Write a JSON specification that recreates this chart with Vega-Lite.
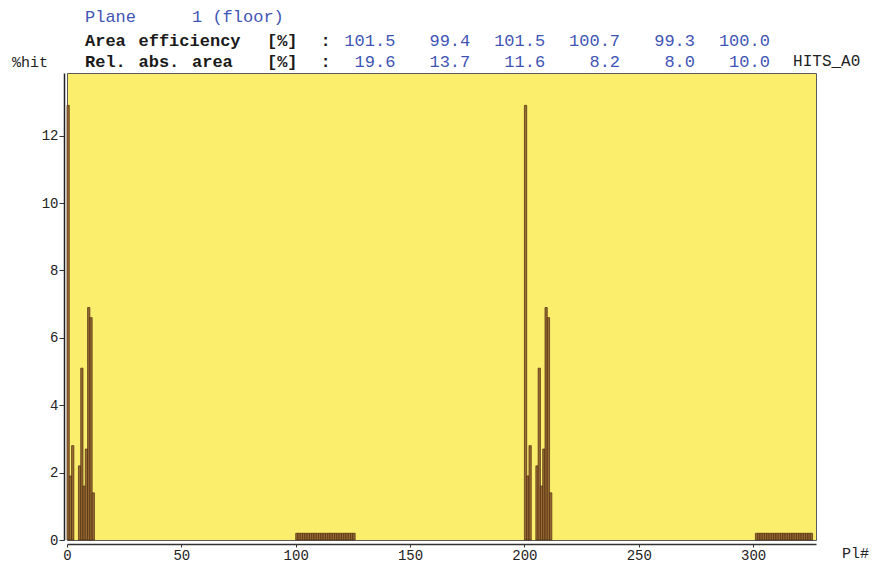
{
  "$schema": "https://vega.github.io/schema/vega-lite/v6.json",
  "width": 749,
  "height": 467,
  "autosize": "none",
  "padding": {"left": 67, "top": 73, "right": 64, "bottom": 27},
  "background": "white",
  "config": {
    "view": {"fill": "#FAEE6C", "stroke": "#5a5a5a", "strokeWidth": 1},
    "text": {"font": "Liberation Mono", "baseline": "middle"}
  },
  "datasets": {
    "hits": [
      {"pl_start": 0, "pl_end": 1, "hit": 12.9},
      {"pl_start": 1, "pl_end": 2, "hit": 1.9},
      {"pl_start": 2, "pl_end": 3, "hit": 2.8},
      {"pl_start": 5, "pl_end": 6, "hit": 2.2},
      {"pl_start": 6, "pl_end": 7, "hit": 5.1},
      {"pl_start": 7, "pl_end": 8, "hit": 1.6},
      {"pl_start": 8, "pl_end": 9, "hit": 2.7},
      {"pl_start": 9, "pl_end": 10, "hit": 6.9},
      {"pl_start": 10, "pl_end": 11, "hit": 6.6},
      {"pl_start": 11, "pl_end": 12, "hit": 1.4},
      {"pl_start": 100, "pl_end": 101, "hit": 0.2},
      {"pl_start": 101, "pl_end": 102, "hit": 0.2},
      {"pl_start": 102, "pl_end": 103, "hit": 0.2},
      {"pl_start": 103, "pl_end": 104, "hit": 0.2},
      {"pl_start": 104, "pl_end": 105, "hit": 0.2},
      {"pl_start": 105, "pl_end": 106, "hit": 0.2},
      {"pl_start": 106, "pl_end": 107, "hit": 0.2},
      {"pl_start": 107, "pl_end": 108, "hit": 0.2},
      {"pl_start": 108, "pl_end": 109, "hit": 0.2},
      {"pl_start": 109, "pl_end": 110, "hit": 0.2},
      {"pl_start": 110, "pl_end": 111, "hit": 0.2},
      {"pl_start": 111, "pl_end": 112, "hit": 0.2},
      {"pl_start": 112, "pl_end": 113, "hit": 0.2},
      {"pl_start": 113, "pl_end": 114, "hit": 0.2},
      {"pl_start": 114, "pl_end": 115, "hit": 0.2},
      {"pl_start": 115, "pl_end": 116, "hit": 0.2},
      {"pl_start": 116, "pl_end": 117, "hit": 0.2},
      {"pl_start": 117, "pl_end": 118, "hit": 0.2},
      {"pl_start": 118, "pl_end": 119, "hit": 0.2},
      {"pl_start": 119, "pl_end": 120, "hit": 0.2},
      {"pl_start": 120, "pl_end": 121, "hit": 0.2},
      {"pl_start": 121, "pl_end": 122, "hit": 0.2},
      {"pl_start": 122, "pl_end": 123, "hit": 0.2},
      {"pl_start": 123, "pl_end": 124, "hit": 0.2},
      {"pl_start": 124, "pl_end": 125, "hit": 0.2},
      {"pl_start": 125, "pl_end": 126, "hit": 0.2},
      {"pl_start": 200, "pl_end": 201, "hit": 12.9},
      {"pl_start": 201, "pl_end": 202, "hit": 1.9},
      {"pl_start": 202, "pl_end": 203, "hit": 2.8},
      {"pl_start": 205, "pl_end": 206, "hit": 2.2},
      {"pl_start": 206, "pl_end": 207, "hit": 5.1},
      {"pl_start": 207, "pl_end": 208, "hit": 1.6},
      {"pl_start": 208, "pl_end": 209, "hit": 2.7},
      {"pl_start": 209, "pl_end": 210, "hit": 6.9},
      {"pl_start": 210, "pl_end": 211, "hit": 6.6},
      {"pl_start": 211, "pl_end": 212, "hit": 1.4},
      {"pl_start": 301, "pl_end": 302, "hit": 0.2},
      {"pl_start": 302, "pl_end": 303, "hit": 0.2},
      {"pl_start": 303, "pl_end": 304, "hit": 0.2},
      {"pl_start": 304, "pl_end": 305, "hit": 0.2},
      {"pl_start": 305, "pl_end": 306, "hit": 0.2},
      {"pl_start": 306, "pl_end": 307, "hit": 0.2},
      {"pl_start": 307, "pl_end": 308, "hit": 0.2},
      {"pl_start": 308, "pl_end": 309, "hit": 0.2},
      {"pl_start": 309, "pl_end": 310, "hit": 0.2},
      {"pl_start": 310, "pl_end": 311, "hit": 0.2},
      {"pl_start": 311, "pl_end": 312, "hit": 0.2},
      {"pl_start": 312, "pl_end": 313, "hit": 0.2},
      {"pl_start": 313, "pl_end": 314, "hit": 0.2},
      {"pl_start": 314, "pl_end": 315, "hit": 0.2},
      {"pl_start": 315, "pl_end": 316, "hit": 0.2},
      {"pl_start": 316, "pl_end": 317, "hit": 0.2},
      {"pl_start": 317, "pl_end": 318, "hit": 0.2},
      {"pl_start": 318, "pl_end": 319, "hit": 0.2},
      {"pl_start": 319, "pl_end": 320, "hit": 0.2},
      {"pl_start": 320, "pl_end": 321, "hit": 0.2},
      {"pl_start": 321, "pl_end": 322, "hit": 0.2},
      {"pl_start": 322, "pl_end": 323, "hit": 0.2},
      {"pl_start": 323, "pl_end": 324, "hit": 0.2},
      {"pl_start": 324, "pl_end": 325, "hit": 0.2},
      {"pl_start": 325, "pl_end": 326, "hit": 0.2}
    ]
  },
  "layer": [
    {
      "data": {"name": "hits"},
      "mark": {"type": "bar", "fill": "#9a6a34", "stroke": "#4a2c10", "strokeWidth": 0.7},
      "encoding": {
        "x": {
          "field": "pl_start", "type": "quantitative",
          "scale": {"domain": [0, 327.5], "nice": false, "zero": false},
          "axis": {"title": null, "values": [0, 50, 100, 150, 200, 250, 300], "offset": 4, "tickSize": 3, "labelPadding": 1, "grid": false,
                   "domainColor": "#333333", "domainWidth": 1.5, "tickColor": "#333333", "labelFont": "Liberation Mono", "labelFontSize": 14, "labelColor": "#222222", "labelFlush": false}
        },
        "x2": {"field": "pl_end"},
        "y": {
          "field": "hit", "type": "quantitative",
          "scale": {"domain": [0, 13.86], "nice": false},
          "axis": {"title": null, "values": [0, 2, 4, 6, 8, 10, 12], "offset": 3, "tickSize": 5, "labelPadding": 1, "grid": false,
                   "domainColor": "#222222", "domainWidth": 1.5, "tickColor": "#333333", "labelFont": "Liberation Mono", "labelFontSize": 14, "labelColor": "#222222"}
        },
        "y2": {"datum": 0}
      }
    },
    {"data": {"values": [{}]}, "mark": {"type": "text", "text": "Plane", "align": "left", "fontSize": 17, "color": "#3f55b5"},
     "encoding": {"x": {"datum": 7.87, "type": "quantitative"}, "y": {"datum": 15.52, "type": "quantitative"}}},
    {"data": {"values": [{}]}, "mark": {"type": "text", "text": "1 (floor)", "align": "left", "fontSize": 17, "color": "#3f55b5"},
     "encoding": {"x": {"datum": 54.66, "type": "quantitative"}, "y": {"datum": 15.52, "type": "quantitative"}}},

    {"data": {"values": [{}]}, "mark": {"type": "text", "text": "Area", "align": "left", "fontSize": 17, "fontWeight": "bold", "color": "#1a1a1a"},
     "encoding": {"x": {"datum": 7.87, "type": "quantitative"}, "y": {"datum": 14.81, "type": "quantitative"}}},
    {"data": {"values": [{}]}, "mark": {"type": "text", "text": "efficiency", "align": "left", "fontSize": 17, "fontWeight": "bold", "color": "#1a1a1a"},
     "encoding": {"x": {"datum": 31.27, "type": "quantitative"}, "y": {"datum": 14.81, "type": "quantitative"}}},
    {"data": {"values": [{}]}, "mark": {"type": "text", "text": "[%]", "align": "left", "fontSize": 17, "fontWeight": "bold", "color": "#1a1a1a"},
     "encoding": {"x": {"datum": 87.42, "type": "quantitative"}, "y": {"datum": 14.81, "type": "quantitative"}}},
    {"data": {"values": [{}]}, "mark": {"type": "text", "text": ":", "align": "left", "fontSize": 17, "fontWeight": "bold", "color": "#1a1a1a"},
     "encoding": {"x": {"datum": 110.82, "type": "quantitative"}, "y": {"datum": 14.81, "type": "quantitative"}}},
    {"data": {"values": [{}]}, "mark": {"type": "text", "text": "101.5", "align": "right", "fontSize": 17, "color": "#3f55b5"},
     "encoding": {"x": {"datum": 143.57, "type": "quantitative"}, "y": {"datum": 14.81, "type": "quantitative"}}},
    {"data": {"values": [{}]}, "mark": {"type": "text", "text": "99.4", "align": "right", "fontSize": 17, "color": "#3f55b5"},
     "encoding": {"x": {"datum": 176.32, "type": "quantitative"}, "y": {"datum": 14.81, "type": "quantitative"}}},
    {"data": {"values": [{}]}, "mark": {"type": "text", "text": "101.5", "align": "right", "fontSize": 17, "color": "#3f55b5"},
     "encoding": {"x": {"datum": 209.08, "type": "quantitative"}, "y": {"datum": 14.81, "type": "quantitative"}}},
    {"data": {"values": [{}]}, "mark": {"type": "text", "text": "100.7", "align": "right", "fontSize": 17, "color": "#3f55b5"},
     "encoding": {"x": {"datum": 241.83, "type": "quantitative"}, "y": {"datum": 14.81, "type": "quantitative"}}},
    {"data": {"values": [{}]}, "mark": {"type": "text", "text": "99.3", "align": "right", "fontSize": 17, "color": "#3f55b5"},
     "encoding": {"x": {"datum": 274.59, "type": "quantitative"}, "y": {"datum": 14.81, "type": "quantitative"}}},
    {"data": {"values": [{}]}, "mark": {"type": "text", "text": "100.0", "align": "right", "fontSize": 17, "color": "#3f55b5"},
     "encoding": {"x": {"datum": 307.34, "type": "quantitative"}, "y": {"datum": 14.81, "type": "quantitative"}}},

    {"data": {"values": [{}]}, "mark": {"type": "text", "text": "Rel.", "align": "left", "fontSize": 17, "fontWeight": "bold", "color": "#1a1a1a"},
     "encoding": {"x": {"datum": 7.87, "type": "quantitative"}, "y": {"datum": 14.19, "type": "quantitative"}}},
    {"data": {"values": [{}]}, "mark": {"type": "text", "text": "abs.", "align": "left", "fontSize": 17, "fontWeight": "bold", "color": "#1a1a1a"},
     "encoding": {"x": {"datum": 31.27, "type": "quantitative"}, "y": {"datum": 14.19, "type": "quantitative"}}},
    {"data": {"values": [{}]}, "mark": {"type": "text", "text": "area", "align": "left", "fontSize": 17, "fontWeight": "bold", "color": "#1a1a1a"},
     "encoding": {"x": {"datum": 54.66, "type": "quantitative"}, "y": {"datum": 14.19, "type": "quantitative"}}},
    {"data": {"values": [{}]}, "mark": {"type": "text", "text": "[%]", "align": "left", "fontSize": 17, "fontWeight": "bold", "color": "#1a1a1a"},
     "encoding": {"x": {"datum": 87.42, "type": "quantitative"}, "y": {"datum": 14.19, "type": "quantitative"}}},
    {"data": {"values": [{}]}, "mark": {"type": "text", "text": ":", "align": "left", "fontSize": 17, "fontWeight": "bold", "color": "#1a1a1a"},
     "encoding": {"x": {"datum": 110.82, "type": "quantitative"}, "y": {"datum": 14.19, "type": "quantitative"}}},
    {"data": {"values": [{}]}, "mark": {"type": "text", "text": "19.6", "align": "right", "fontSize": 17, "color": "#3f55b5"},
     "encoding": {"x": {"datum": 143.57, "type": "quantitative"}, "y": {"datum": 14.19, "type": "quantitative"}}},
    {"data": {"values": [{}]}, "mark": {"type": "text", "text": "13.7", "align": "right", "fontSize": 17, "color": "#3f55b5"},
     "encoding": {"x": {"datum": 176.32, "type": "quantitative"}, "y": {"datum": 14.19, "type": "quantitative"}}},
    {"data": {"values": [{}]}, "mark": {"type": "text", "text": "11.6", "align": "right", "fontSize": 17, "color": "#3f55b5"},
     "encoding": {"x": {"datum": 209.08, "type": "quantitative"}, "y": {"datum": 14.19, "type": "quantitative"}}},
    {"data": {"values": [{}]}, "mark": {"type": "text", "text": "8.2", "align": "right", "fontSize": 17, "color": "#3f55b5"},
     "encoding": {"x": {"datum": 241.83, "type": "quantitative"}, "y": {"datum": 14.19, "type": "quantitative"}}},
    {"data": {"values": [{}]}, "mark": {"type": "text", "text": "8.0", "align": "right", "fontSize": 17, "color": "#3f55b5"},
     "encoding": {"x": {"datum": 274.59, "type": "quantitative"}, "y": {"datum": 14.19, "type": "quantitative"}}},
    {"data": {"values": [{}]}, "mark": {"type": "text", "text": "10.0", "align": "right", "fontSize": 17, "color": "#3f55b5"},
     "encoding": {"x": {"datum": 307.34, "type": "quantitative"}, "y": {"datum": 14.19, "type": "quantitative"}}},

    {"data": {"values": [{}]}, "mark": {"type": "text", "text": "%hit", "align": "left", "fontSize": 15, "color": "#222222"},
     "encoding": {"x": {"datum": -24.05, "type": "quantitative"}, "y": {"datum": 14.19, "type": "quantitative"}}},
    {"data": {"values": [{}]}, "mark": {"type": "text", "text": "HITS_A0", "align": "left", "fontSize": 16, "color": "#222222"},
     "encoding": {"x": {"datum": 317.49, "type": "quantitative"}, "y": {"datum": 14.22, "type": "quantitative"}}},
    {"data": {"values": [{}]}, "mark": {"type": "text", "text": "Pl#", "align": "left", "fontSize": 15, "color": "#222222"},
     "encoding": {"x": {"datum": 338.92, "type": "quantitative"}, "y": {"datum": -0.39, "type": "quantitative"}}}
  ]
}
